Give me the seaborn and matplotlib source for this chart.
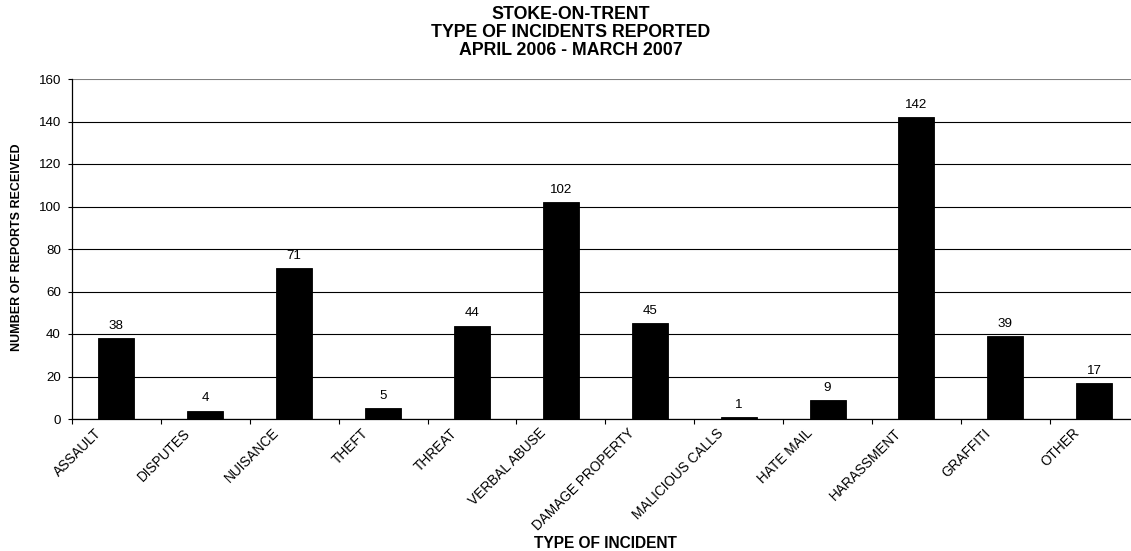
import matplotlib
matplotlib.use("Agg")
import matplotlib.pyplot as plt
from matplotlib.transforms import ScaledTranslation
import numpy as np
import pandas as pd
import seaborn as sns

# Incident counts, April 2006 - March 2007
incident_types = ["ASSAULT", "DISPUTES", "NUISANCE", "THEFT", "THREAT",
                  "VERBAL ABUSE", "DAMAGE PROPERTY", "MALICIOUS CALLS",
                  "HATE MAIL", "HARASSMENT", "GRAFFITI", "OTHER"]
reports = [38, 4, 71, 5, 44, 102, 45, 1, 9, 142, 39, 17]
y_ticks = [0, 20, 40, 60, 80, 100, 120, 140, 160]

df = pd.DataFrame({"incident": incident_types, "reports": reports})

sns.set_style("white")
plt.rcParams["font.family"] = ["Liberation Sans", "DejaVu Sans"]
plt.rcParams.update({"text.color": "black", "axes.labelcolor": "black",
                     "xtick.color": "black", "ytick.color": "black"})

W, H = 1131, 551
fig = plt.figure(figsize=(W / 100, H / 100), dpi=100)
# plot area: left edge 72px, bottom 419px, top 79px; extends past the right edge
left_px, right_px, top_px, bot_px = 72, 1138.7, 79, 419
ax = fig.add_axes([left_px / W, 1 - bot_px / H,
                   (right_px - left_px) / W, (bot_px - top_px) / H])

sns.barplot(data=df, x="incident", y="reports", color="black",
            width=0.405, saturation=1, edgecolor="black", linewidth=0.6,
            ax=ax, zorder=3)

ax.set_xlim(-0.5, len(incident_types) - 0.5)
ax.set_ylim(0, 160)
ax.set_yticks(y_ticks)
ax.set_axisbelow(True)
ax.yaxis.grid(True, color="black", linewidth=0.8)
ax.xaxis.grid(False)
# the top gridline renders lighter
ax.get_ygridlines()[-1].set_color("#808080")

for side in ("top", "right"):
    ax.spines[side].set_visible(False)
for side in ("left", "bottom"):
    ax.spines[side].set_color("black")
    ax.spines[side].set_linewidth(0.9)

# tick marks sit between categories; labels under the category centres
ax.set_xticks(np.arange(-0.5, len(incident_types), 1.0), minor=True)
ax.tick_params(axis="x", which="minor", bottom=True, length=3.5,
               width=0.8, color="black", direction="out")
ax.tick_params(axis="x", which="major", length=0, pad=8.5, labelsize=9.8)
ax.tick_params(axis="y", which="major", left=True, length=3, width=0.8,
               color="black", direction="out", pad=5, labelsize=9.6)

ax.set_xticks(range(len(incident_types)))
ax.set_xticklabels(incident_types, rotation=45, ha="right", va="center",
                   rotation_mode="anchor")
shift = ScaledTranslation(-0.17, 0, fig.dpi_scale_trans)
for lab in ax.get_xticklabels():
    lab.set_transform(lab.get_transform() + shift)

ax.bar_label(ax.containers[0], labels=[str(v) for v in reports],
             padding=4.5, fontsize=9.6)

ax.set_xlabel("TYPE OF INCIDENT", fontsize=11.2, fontweight="bold")
ax.xaxis.set_label_coords((605 - left_px) / (right_px - left_px), -0.345)
ax.set_ylabel("NUMBER OF REPORTS RECEIVED", fontsize=9, fontweight="bold")
ax.yaxis.set_label_coords((22.6 - left_px) / (right_px - left_px), 0.504)

fig.suptitle("STOKE-ON-TRENT\nTYPE OF INCIDENTS REPORTED\nAPRIL 2006 - MARCH 2007",
             x=571 / W, y=1 - 6 / H, va="top", fontsize=12.8, fontweight="bold",
             linespacing=1.08)

fig.savefig("out.png", dpi=100)
